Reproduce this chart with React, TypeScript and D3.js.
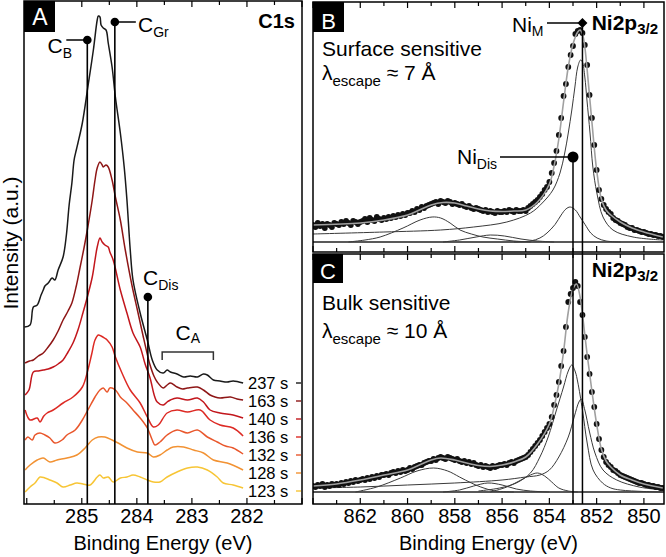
import React from "react";
import * as d3 from "d3";

type Pt = [number, number];

const FONT = "'Liberation Sans', Arial, Helvetica, sans-serif";

// ---------- panel A : C1s spectra, [binding energy (eV), intensity (a.u.)]
const c1sTimes = ["237 s", "163 s", "140 s", "136 s", "132 s", "128 s", "123 s"];
const c1sColors = ["#1a1a1a", "#8e1616", "#c2161c", "#dd2a24", "#e9572c", "#f29233", "#f7c535"];

const c1s237: Pt[] = [
  [286.04, 177], [285.94, 179], [285.88, 197], [285.81, 199], [285.74, 209], [285.7, 214], [285.67, 218],
  [285.61, 221], [285.54, 226], [285.49, 224], [285.43, 234], [285.34, 247], [285.28, 269], [285.23, 299],
  [285.18, 321], [285.14, 344], [285.1, 354], [285.07, 361], [284.99, 381], [284.89, 417], [284.79, 454],
  [284.72, 484], [284.7, 488], [284.67, 487], [284.65, 479], [284.61, 476], [284.56, 474], [284.52, 461],
  [284.45, 437], [284.39, 407], [284.3, 371], [284.23, 337], [284.18, 304], [284.12, 254], [284.07, 224],
  [283.94, 191], [283.81, 164], [283.72, 144], [283.63, 134], [283.52, 131], [283.45, 134], [283.39, 132],
  [283.27, 130], [283.15, 127], [283.03, 128], [282.9, 127], [282.79, 130], [282.72, 129], [282.61, 124],
  [282.49, 123], [282.36, 122], [282.25, 123], [282.07, 121],
];
const c1s163: Pt[] = [
  [286.03, 141], [285.95, 143], [285.88, 144], [285.79, 148], [285.7, 151], [285.61, 157], [285.52, 164],
  [285.43, 173], [285.34, 184], [285.25, 193], [285.18, 201], [285.1, 218], [285.03, 237], [284.96, 256],
  [284.9, 274], [284.81, 304], [284.76, 324], [284.72, 336], [284.67, 342], [284.63, 339], [284.61, 337],
  [284.56, 339], [284.52, 337], [284.45, 324], [284.39, 307], [284.3, 284], [284.21, 254], [284.09, 219],
  [283.99, 194], [283.89, 169], [283.82, 152], [283.76, 139], [283.69, 128], [283.63, 122], [283.52, 116],
  [283.45, 119], [283.39, 121], [283.27, 117], [283.17, 115], [283.08, 116], [282.9, 117], [282.79, 114],
  [282.67, 109], [282.58, 107], [282.49, 106], [282.3, 107], [282.18, 105], [282.07, 104],
];
const c1s140: Pt[] = [
  [286.03, 109], [285.96, 114], [285.88, 132], [285.79, 133], [285.7, 134], [285.61, 135], [285.52, 137],
  [285.43, 140], [285.34, 144], [285.25, 152], [285.16, 161], [285.07, 174], [284.98, 191], [284.89, 209],
  [284.81, 227], [284.76, 244], [284.72, 257], [284.67, 266], [284.63, 262], [284.58, 259], [284.52, 257],
  [284.49, 252], [284.43, 244], [284.3, 214], [284.18, 191], [284.07, 171], [283.94, 157], [283.85, 140],
  [283.76, 126], [283.68, 108], [283.63, 102], [283.52, 99], [283.45, 102], [283.39, 104], [283.27, 106],
  [283.08, 104], [282.9, 106], [282.79, 102], [282.67, 94], [282.49, 91], [282.25, 89], [282.07, 86],
];
const c1s136: Pt[] = [
  [286.03, 94], [285.94, 84], [285.81, 86], [285.76, 82], [285.69, 88], [285.63, 91], [285.52, 94],
  [285.34, 101], [285.16, 107], [284.99, 117], [284.89, 134], [284.82, 150], [284.76, 164], [284.7, 169],
  [284.65, 168], [284.59, 166], [284.54, 164], [284.45, 157], [284.39, 147], [284.27, 131], [284.12, 114],
  [283.94, 101], [283.81, 87], [283.7, 77], [283.61, 79], [283.45, 91], [283.27, 94], [283.08, 92],
  [282.85, 94], [282.67, 84], [282.49, 79], [282.25, 76], [282.07, 68],
];
const c1s132: Pt[] = [
  [286.03, 64], [285.98, 67], [285.9, 64], [285.85, 69], [285.76, 71], [285.67, 69], [285.58, 66],
  [285.49, 61], [285.36, 64], [285.27, 69], [285.12, 74], [284.99, 84], [284.89, 94], [284.76, 107],
  [284.67, 114], [284.61, 116], [284.54, 112], [284.49, 116], [284.39, 114], [284.3, 107], [284.18, 101],
  [284.07, 94], [283.94, 86], [283.81, 76], [283.72, 64], [283.67, 59], [283.58, 62], [283.45, 69],
  [283.27, 74], [283.08, 71], [282.9, 74], [282.72, 67], [282.54, 62], [282.39, 58], [282.25, 56], [282.07, 50],
];
const c1s128: Pt[] = [
  [286.03, 34], [285.94, 39], [285.81, 44], [285.7, 46], [285.58, 42], [285.45, 44], [285.27, 46],
  [285.09, 49], [284.94, 56], [284.81, 64], [284.7, 67], [284.58, 67], [284.45, 64], [284.34, 61],
  [284.18, 56], [283.99, 52], [283.81, 51], [283.7, 47], [283.58, 49], [283.45, 54], [283.34, 57],
  [283.15, 57], [282.97, 54], [282.79, 51], [282.61, 44], [282.36, 41], [282.07, 34],
];
const c1s123: Pt[] = [
  [286.03, 12], [285.94, 17], [285.85, 21], [285.76, 27], [285.67, 26], [285.58, 24], [285.45, 21],
  [285.34, 17], [285.21, 19], [285.09, 21], [284.98, 20], [284.85, 19], [284.72, 27], [284.67, 29],
  [284.61, 26], [284.52, 27], [284.43, 22], [284.3, 26], [284.18, 27], [284.07, 29], [283.94, 27],
  [283.81, 24], [283.7, 22], [283.58, 22], [283.45, 27], [283.27, 32], [283.08, 36], [282.9, 37],
  [282.72, 34], [282.54, 27], [282.43, 21], [282.25, 19], [282.07, 16],
];
const c1sSeries = [c1s237, c1s163, c1s140, c1s136, c1s132, c1s128, c1s123];
const c1sTicks = [285, 284, 283, 282];
const c1sMarkers = [
  { sub: "B", energy: 284.9, top: 464 },
  { sub: "Gr", energy: 284.4, top: 482 },
  { sub: "Dis", energy: 283.8, top: 207 },
];
const cARange = { from: 283.54, to: 282.61, level: 152 };

// ---------- panels B, C : Ni2p3/2, counts on a 0.1 eV grid from 864.0 eV
const niStart = 864.0;
const niStep = 0.1;
const surfaceCounts = [
  17, 15, 19, 16, 18, 14, 18, 17, 15, 19,
  18, 17, 20, 18, 21, 19, 17, 21, 20, 18,
  20, 21, 23, 20, 24, 22, 21, 25, 23, 22,
  24, 23, 25, 24, 26, 25, 27, 26, 28, 27,
  29, 29, 31, 30, 33, 32, 35, 34, 36, 37,
  38, 39, 40, 38, 41, 40, 39, 41, 40, 38,
  39, 38, 37, 38, 36, 35, 36, 34, 33, 34,
  33, 32, 31, 32, 30, 31, 30, 29, 31, 30,
  30, 31, 30, 32, 31, 30, 32, 31, 31, 32,
  31, 34, 36, 38, 40, 42, 45, 48, 52, 55,
  60, 69, 79, 91, 107, 124, 146, 158, 175, 187,
  196, 208, 211, 212, 209, 197, 177, 147, 124, 97,
  72, 52, 43, 37, 33, 30, 28, 24, 22, 21,
  19, 18, 17, 15, 14, 14, 12, 12, 11, 10,
  10, 9, 8, 8, 7, 7, 6, 6, 5,
];
const bulkCounts = [
  6, 5, 7, 6, 8, 5, 7, 6, 8, 7,
  8, 7, 9, 8, 10, 9, 11, 10, 12, 11,
  12, 13, 12, 14, 13, 15, 14, 16, 15, 17,
  17, 18, 17, 19, 20, 19, 21, 20, 22, 21,
  22, 24, 23, 25, 26, 27, 27, 29, 30, 31,
  31, 33, 32, 34, 35, 34, 33, 35, 34, 33,
  32, 33, 31, 30, 31, 29, 30, 28, 29, 27,
  26, 27, 25, 26, 25, 24, 26, 25, 26, 27,
  27, 28, 27, 29, 30, 29, 31, 32, 33, 34,
  35, 37, 40, 43, 46, 49, 52, 56, 60, 64,
  68, 75, 87, 97, 110, 126, 141, 165, 190, 198,
  204, 210, 206, 190, 177, 155, 135, 118, 100, 85,
  68, 53, 42, 35, 30, 27, 25, 22, 21, 19,
  17, 16, 15, 14, 13, 12, 11, 10, 9, 9,
  8, 7, 7, 6, 6, 5, 5, 4, 4,
];

const surfaceFit: Pt[] = [
  [864, 17], [862, 19], [861, 22], [860, 27], [859.5, 32], [859, 37], [858.5, 39.5], [858, 39], [857.5, 36],
  [857, 33], [856.5, 31], [856, 30.5], [855.5, 31], [855, 32], [854.5, 40], [854, 58], [853.8, 76],
  [853.6, 103], [853.4, 140], [853.2, 175], [853, 198], [852.8, 210], [852.7, 212], [852.6, 208],
  [852.5, 195], [852.4, 172], [852.2, 120], [852, 72], [851.8, 43], [851.6, 32], [851.4, 27], [851, 20],
  [850.5, 14], [850, 10], [849.2, 5],
];
const surfaceNiM: Pt[] = [
  [864, 8], [861, 10], [858.6, 12], [857.2, 15], [855.8, 20], [854.8, 29], [854.3, 39], [853.85, 52],
  [853.55, 69], [853.35, 89], [853.2, 109], [853.05, 132], [852.92, 155], [852.8, 175], [852.68, 182],
  [852.6, 180], [852.5, 165], [852.41, 142], [852.28, 109], [852.16, 75], [851.99, 49], [851.73, 25],
  [851.31, 12], [850.46, 5], [849.2, 2],
];
const surfaceNiDis: Pt[] = [
  [855.5, 0], [854.8, 1], [854.4, 4], [854.1, 9], [853.76, 17.5], [853.5, 27], [853.3, 33], [853.12, 35],
  [852.9, 32], [852.7, 25], [852.49, 17.5], [852.25, 9], [851.98, 4], [851.6, 1], [851, 0],
];
const surfaceSat: Pt[] = [
  [862.5, 0], [861.8, 2], [861.16, 5], [860.19, 14], [859.47, 22], [858.96, 25], [858.6, 24], [858.2, 19],
  [857.78, 12], [857.3, 8], [856.81, 5], [856.2, 3], [855.5, 1], [854.8, 0],
];
const surfaceSmall: Pt[] = [
  [858.5, 0], [857.8, 2], [857.1, 5], [856.5, 7], [855.9, 6], [855.2, 3], [854.5, 1], [853.8, 0],
];

const bulkFit: Pt[] = [
  [864, 6], [863, 8], [862, 12], [861, 17], [860, 22], [859.5, 27], [859, 32], [858.6, 34], [858, 32],
  [857.5, 29], [857, 26.5], [856.5, 25.5], [856, 27], [855.5, 30], [855, 35], [854.5, 48], [854, 68],
  [853.8, 85], [853.6, 108], [853.4, 140], [853.2, 180], [853, 203], [852.85, 208], [852.7, 195],
  [852.6, 178], [852.4, 137], [852.2, 101], [852, 68], [851.8, 43], [851.6, 31], [851.4, 25], [851, 17],
  [850.5, 12], [850, 8], [849.2, 4],
];
const bulkNiDis: Pt[] = [
  [857, 1], [856.1, 4], [855.4, 9], [854.8, 19], [854.4, 35], [854.05, 55], [853.7, 82], [853.4, 105],
  [853.2, 121], [853.05, 127], [852.9, 120], [852.8, 110], [852.6, 82], [852.4, 49], [852.15, 22],
  [851.75, 9], [851.4, 4], [851, 2], [850, 0.5], [849.2, 0],
];
const bulkNiM: Pt[] = [
  [864, 4], [862, 5], [860, 7], [858, 9], [856, 12], [855, 15], [854.4, 17], [854, 22], [853.6, 35],
  [853.2, 55], [852.95, 75], [852.75, 90], [852.65, 93], [852.5, 82], [852.3, 60], [852.07, 39],
  [851.73, 22], [851.15, 12], [850.2, 5], [849.2, 2],
];
const bulkSat: Pt[] = [
  [862.2, 0], [861.3, 5], [860.3, 14], [859.6, 21], [858.9, 24], [858.3, 21], [857.8, 15], [857.3, 9],
  [856.9, 5], [856.3, 1], [855.5, 0],
];
const bulkSmall1: Pt[] = [
  [858.5, 0], [857.8, 2], [857.2, 6], [856.6, 9], [856, 7], [855.4, 3], [854.8, 1], [854, 0],
];
const bulkSmall2: Pt[] = [
  [856.5, 0], [855.8, 5], [855.2, 12], [854.8, 17], [854.5, 19], [854.2, 16], [853.9, 10], [853.6, 4],
  [853.2, 1], [852.8, 0],
];

const niTickLabels = [862, 860, 858, 856, 854, 852, 850];
const niMetal = { energy: 852.6, top: 219 };
const niDissolved = { energy: 853.0, top: 85 };

// ---------- layout
const A = { left: 24, right: 302, top: 1, bottom: 504 };
const B = { left: 313, right: 664, top: 2, bottom: 252 };
const C = { left: 313, right: 664, top: 254, bottom: 504 };

const xA = d3.scaleLinear().domain([286.05, 281.0]).range([A.left, A.right]);
const yA = d3.scaleLinear().domain([0, 503]).range([A.bottom, A.top]);
const xNi = d3.scaleLinear().domain([864, 849.15]).range([B.left, B.right]);
const yB = d3.scaleLinear().domain([-10, 240]).range([B.bottom, B.top]);
const yC = d3.scaleLinear().domain([-12, 238]).range([C.bottom, C.top]);

function Sub({ x, y, main, sub, size = 21, subSize = 14, dy = 5, anchor = "start", weight = "normal" }: any) {
  return (
    <text x={x} y={y} fontSize={size} textAnchor={anchor} fontWeight={weight} fill="#000">
      <tspan>{main}</tspan>
      <tspan fontSize={subSize} dy={dy}>{sub}</tspan>
    </text>
  );
}

function Ticks({ scale, values, y, dir, len }: any) {
  return (
    <g stroke="#000" strokeWidth={1.2}>
      {values.map((v: number, i: number) => (
        <line key={i} x1={scale(v)} x2={scale(v)} y1={y} y2={y + dir * len(v)} />
      ))}
    </g>
  );
}

function NiPanel({ box, y, counts, fit, comps, id }: any) {
  const energies = counts.map((_: number, i: number) => niStart - i * niStep);
  const line = d3.line<Pt>().x(d => xNi(d[0])).y(d => y(d[1])).curve(d3.curveCatmullRom.alpha(0.5));
  const ticks = d3.range(864, 849, -1);
  const len = (v: number) => (v % 2 === 0 ? 6 : 4);
  return (
    <g>
      <clipPath id={id}>
        <rect x={box.left} y={box.top} width={box.right - box.left} height={box.bottom - box.top} />
      </clipPath>
      <g clipPath={`url(#${id})`}>
        <line x1={box.left} x2={box.right} y1={y(0)} y2={y(0)} stroke="#222" strokeWidth={1.3} />
        {comps.map((c: Pt[], i: number) => (
          <path key={i} d={line(c) || ""} fill="none" stroke="#3a3a3a" strokeWidth={1} />
        ))}
        {counts.map((v: number, i: number) => (
          <circle key={i} cx={xNi(energies[i])} cy={y(v)} r={2.9} fill="#111" />
        ))}
        <path d={line(fit) || ""} fill="none" stroke="#a0a0a0" strokeWidth={1.6} />
      </g>
      <Ticks scale={xNi} values={ticks} y={box.top} dir={1} len={len} />
      <Ticks scale={xNi} values={ticks} y={box.bottom} dir={-1} len={len} />
      <rect x={box.left} y={box.top} width={box.right - box.left} height={box.bottom - box.top}
        fill="none" stroke="#000" strokeWidth={1.5} />
    </g>
  );
}

export default function App() {
  const lineA = d3.line<Pt>().x(d => xA(d[0])).y(d => yA(d[1])).curve(d3.curveCatmullRom.alpha(0.5));
  const ticksA = d3.range(281, 286.01, 0.5);
  const lenA = (v: number) => (Math.abs(v - Math.round(v)) < 0.01 ? 6 : 4);
  // time labels are stacked evenly below the end of the top trace
  const firstEnd = yA(c1s237[c1s237.length - 1][1]);

  return (
    <div style={{ position: "absolute", left: 0, top: 0 }}>
      <svg width={666} height={557} style={{ display: "block", fontFamily: FONT }}>
        <rect width={666} height={557} fill="#fff" />

        {/* ---- panel A */}
        {c1sSeries.map((s, i) => (
          <path key={i} d={lineA(s) || ""} fill="none" stroke={c1sColors[i]} strokeWidth={1.5} />
        ))}
        {c1sMarkers.map((m, i) => (
          <g key={i}>
            <line x1={xA(m.energy)} x2={xA(m.energy)} y1={yA(m.top)} y2={A.bottom} stroke="#000" strokeWidth={1.6} />
            <circle cx={xA(m.energy)} cy={yA(m.top)} r={4.3} fill="#000" />
          </g>
        ))}
        <line x1={xA(284.9) - 21} x2={xA(284.9)} y1={yA(464)} y2={yA(464)} stroke="#000" strokeWidth={1.5} />
        <line x1={xA(284.4)} x2={xA(284.4) + 21} y1={yA(482)} y2={yA(482)} stroke="#000" strokeWidth={1.5} />
        <Sub x={72} y={53} main="C" sub="B" anchor="end" />
        <Sub x={138} y={32} main="C" sub="Gr" />
        <Sub x={143} y={285} main="C" sub="Dis" />
        <path
          d={`M${xA(cARange.from)},${yA(cARange.level) + 8}V${yA(cARange.level)}H${xA(cARange.to)}V${yA(cARange.level) + 8}`}
          fill="none" stroke="#333" strokeWidth={1.5} />
        <Sub x={(xA(cARange.from) + xA(cARange.to)) / 2} y={340} main="C" sub="A" anchor="middle" dy={3} />

        {c1sSeries.map((s, i) => {
          const ly = firstEnd + i * 18;
          return (
            <g key={i}>
              <text x={248} y={ly} dy="0.35em" fontSize={16.5}>{c1sTimes[i]}</text>
              <line x1={296} x2={301} y1={ly} y2={ly} stroke={c1sColors[i]} strokeWidth={1.4} />
            </g>
          );
        })}
        <Ticks scale={xA} values={ticksA} y={A.top} dir={1} len={lenA} />
        <Ticks scale={xA} values={ticksA} y={A.bottom} dir={-1} len={lenA} />
        <rect x={A.left} y={A.top} width={A.right - A.left} height={A.bottom - A.top} fill="none" stroke="#000" strokeWidth={1.5} />
        <rect x={A.left} y={A.top} width={31} height={31} fill="#000" />
        <text x={40} y={25} fontSize={23} fill="#fff" textAnchor="middle">A</text>
        <text x={295} y={28} fontSize={20} fontWeight="bold" textAnchor="end">C1s</text>
        {c1sTicks.map(t => (
          <text key={t} x={xA(t)} y={523} fontSize={20} textAnchor="middle">{t}</text>
        ))}
        <text x={(A.left + A.right) / 2} y={550} fontSize={20} textAnchor="middle">Binding Energy (eV)</text>
        <text transform="translate(18,243) rotate(-90)" fontSize={21} textAnchor="middle">Intensity (a.u.)</text>

        {/* ---- panels B and C */}
        <NiPanel id="clipB" box={B} y={yB} counts={surfaceCounts} fit={surfaceFit}
          comps={[surfaceNiM, surfaceNiDis, surfaceSat, surfaceSmall]} />
        <NiPanel id="clipC" box={C} y={yC} counts={bulkCounts} fit={bulkFit}
          comps={[bulkNiDis, bulkNiM, bulkSat, bulkSmall1, bulkSmall2]} />

        <line x1={xNi(niMetal.energy)} x2={xNi(niMetal.energy)} y1={yB(niMetal.top)} y2={C.bottom} stroke="#000" strokeWidth={1.5} />
        <line x1={xNi(niDissolved.energy)} x2={xNi(niDissolved.energy)} y1={yB(niDissolved.top)} y2={C.bottom} stroke="#000" strokeWidth={1.5} />
        <path
          d={`M${xNi(niMetal.energy)},${yB(niMetal.top) - 5}l5,5l-5,5l-5,-5z`}
          fill="#000" />
        <circle cx={xNi(niDissolved.energy)} cy={yB(niDissolved.top)} r={5.5} fill="#000" />
        <line x1={547} x2={xNi(niMetal.energy) - 4} y1={yB(niMetal.top)} y2={yB(niMetal.top)} stroke="#000" strokeWidth={1.5} />
        <line x1={500} x2={xNi(niDissolved.energy) - 5} y1={yB(niDissolved.top)} y2={yB(niDissolved.top)} stroke="#000" strokeWidth={1.5} />
        <Sub x={512} y={32} main="Ni" sub="M" dy={4} />
        <Sub x={457} y={164} main="Ni" sub="Dis" dy={5} />

        <Sub x={658} y={30} main="Ni2p" sub="3/2" size={21} subSize={15} dy={4} anchor="end" weight="bold" />
        <Sub x={658} y={277} main="Ni2p" sub="3/2" size={21} subSize={15} dy={4} anchor="end" weight="bold" />

        <rect x={B.left} y={B.top} width={31} height={30} fill="#000" />
        <text x={328.5} y={29} fontSize={22} fill="#fff" textAnchor="middle">B</text>
        <rect x={C.left} y={C.top} width={30} height={29} fill="#000" />
        <text x={328} y={279} fontSize={22} fill="#fff" textAnchor="middle">C</text>

        <text x={322} y={56} fontSize={21}>Surface sensitive</text>
        <text x={322} y={80} fontSize={21}>
          <tspan>λ</tspan><tspan fontSize={15} dy={6}>escape</tspan><tspan dy={-6}> ≈ 7 Å</tspan>
        </text>
        <text x={322} y={310} fontSize={21}>Bulk sensitive</text>
        <text x={322} y={338} fontSize={21}>
          <tspan>λ</tspan><tspan fontSize={15} dy={6}>escape</tspan><tspan dy={-6}> ≈ 10 Å</tspan>
        </text>

        {niTickLabels.map(t => (
          <text key={t} x={xNi(t)} y={523} fontSize={20} textAnchor="middle">{t}</text>
        ))}
        <text x={(C.left + C.right) / 2} y={550} fontSize={20} textAnchor="middle">Binding Energy (eV)</text>
      </svg>
    </div>
  );
}
